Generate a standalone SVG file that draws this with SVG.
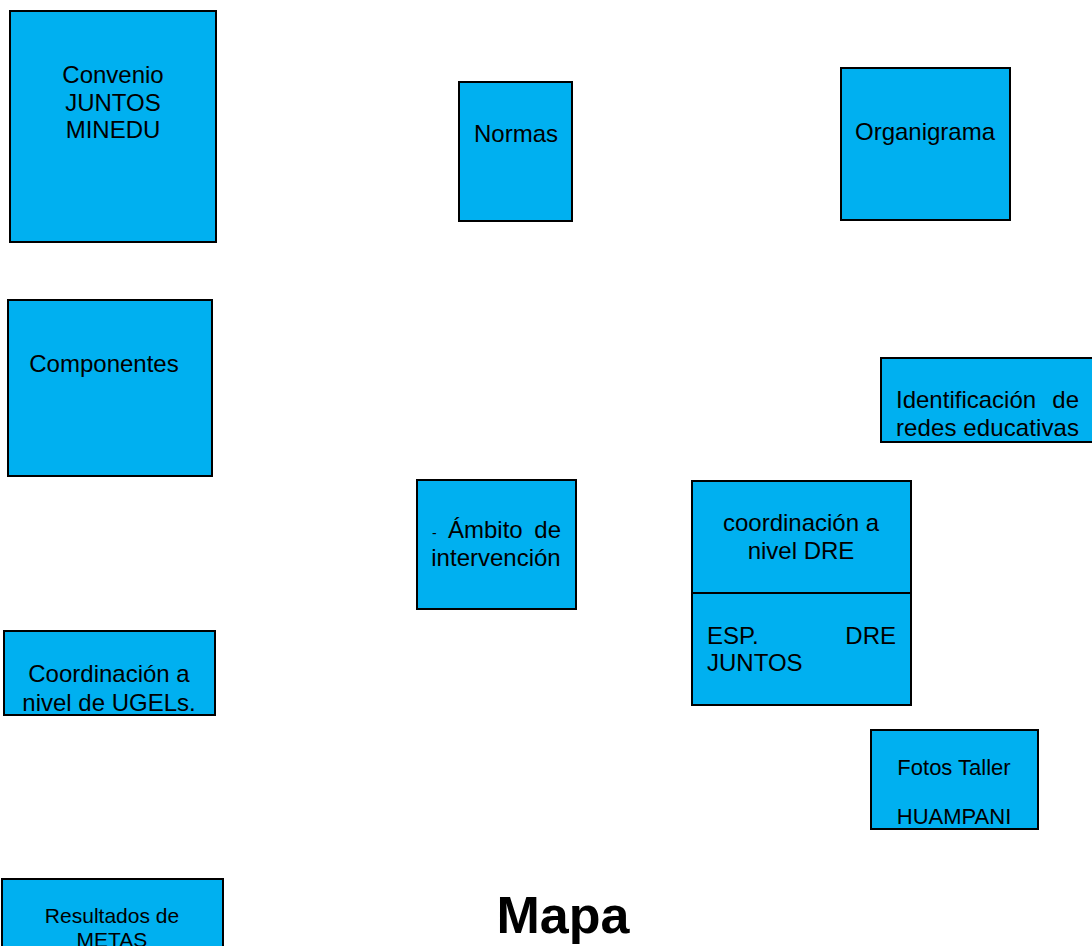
<svg xmlns="http://www.w3.org/2000/svg" width="1092" height="946" viewBox="0 0 1092 946">
<style>
rect.n{fill:#00B0F0;stroke:#000;stroke-width:2}
text{font-family:"Liberation Sans",Arial,sans-serif;font-size:24px;fill:#000}
.c{text-anchor:middle}
.e{text-anchor:end}
.s{font-size:22px}
.r{font-size:21px}
.d{font-size:14px}
.t{font-size:52px;font-weight:bold}
</style>
<rect width="1092" height="946" fill="#fff"/>
<g id="convenio"><rect class="n" x="10" y="11" width="206" height="231"/>
<text class="c" x="113" y="83">Convenio</text><text class="c" x="113" y="111">JUNTOS</text><text class="c" x="113" y="138">MINEDU</text></g>
<g id="normas"><rect class="n" x="459" y="82" width="113" height="139"/><text class="c" x="516" y="142">Normas</text></g>
<g id="organigrama"><rect class="n" x="841" y="68" width="169" height="152"/><text class="c" x="925" y="140">Organigrama</text></g>
<g id="componentes"><rect class="n" x="8" y="300" width="204" height="176"/><text class="c" x="104" y="372">Componentes</text></g>
<g id="identificacion"><rect class="n" x="881" y="358" width="214" height="84"/>
<text x="896" y="408">Identificación</text><text class="e" x="1079" y="408">de</text>
<text x="896" y="436" textLength="183" lengthAdjust="spacing">redes educativas</text></g>
<g id="ambito"><rect class="n" x="417" y="480" width="159" height="129"/>
<text x="432" y="538"><tspan class="d">-</tspan></text><text x="448" y="538">Ámbito</text><text class="e" x="561" y="538">de</text>
<text class="c" x="496" y="566">intervención</text></g>
<g id="dre"><rect class="n" x="692" y="481" width="219" height="112"/>
<text class="c" x="801" y="531">coordinación a</text><text class="c" x="801" y="559">nivel DRE</text></g>
<g id="esp"><rect class="n" x="692" y="593" width="219" height="112"/>
<text x="707" y="644">ESP.</text><text class="e" x="896" y="644">DRE</text><text x="707" y="671">JUNTOS</text></g>
<g id="ugels"><rect class="n" x="4" y="631" width="211" height="84"/>
<text class="c" x="109" y="682">Coordinación a</text><text class="c" x="109" y="711">nivel de UGELs.</text></g>
<g id="fotos"><rect class="n" x="871" y="730" width="167" height="99"/>
<text class="c s" x="954" y="775">Fotos Taller</text><text class="c s" x="954" y="824">HUAMPANI</text></g>
<g id="resultados"><rect class="n" x="2" y="879" width="221" height="80"/>
<text class="c r" x="112" y="923">Resultados de</text><text class="c r" x="112" y="947">METAS</text></g>
<g id="connectors"></g>
<text class="c t" x="563" y="933">Mapa</text>
</svg>
